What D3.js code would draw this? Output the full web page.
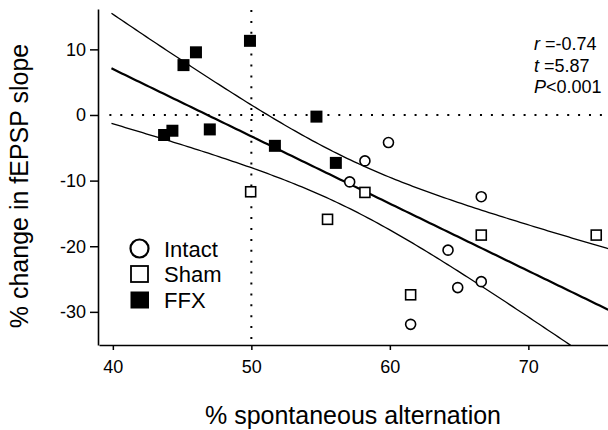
<!DOCTYPE html>
<html><head><meta charset="utf-8">
<script src="https://cdn.jsdelivr.net/npm/d3@7/dist/d3.min.js"></script>
<style>body{margin:0;background:#fff;} svg{display:block;} text{font-family:"Liberation Sans",Arial,sans-serif;fill:#000;}</style>
</head><body><svg id="c" width="608" height="430"></svg>
<script>
// ---- data ----
const intactX = [59.9, 58.2, 57.1, 66.6, 64.2, 64.9, 66.6, 61.5];
const intactY = [-4.2, -7.0, -10.2, -12.45, -20.6, -26.3, -25.4, -31.9];
const shamX = [49.95, 55.5, 58.2, 66.6, 74.9, 61.5];
const shamY = [-11.7, -15.9, -11.8, -18.3, -18.3, -27.4];
const ffxX = [45.1, 46.0, 49.9, 43.7, 44.3, 47.0, 54.7, 51.7, 56.1];
const ffxY = [7.6, 9.55, 11.3, -3.05, -2.4, -2.2, -0.25, -4.7, -7.3];
const xTicks = [40, 50, 60, 70];
const yTicks = [10, 0, -10, -20, -30];
const legendLabels = ["Intact", "Sham", "FFX"];
const statLines = [["r", " =-0.74"], ["t", " =5.87"], ["P", "<0.001"]];
const refX = 50, refY = 0;

const svg = d3.select("#c");
const x = d3.scaleLinear().domain([39.0, 75.75]).range([99, 608]);
const y = d3.scaleLinear().domain([-35.05, 16.15]).range([345, 9]);

// regression from data
const allX = intactX.concat(shamX, ffxX), allY = intactY.concat(shamY, ffxY);
const n = allX.length, mx = d3.mean(allX), my = d3.mean(allY);
let sxx = 0, sxy = 0;
for (let i = 0; i < n; i++) { sxx += (allX[i]-mx)**2; sxy += (allX[i]-mx)*(allY[i]-my); }
const b = sxy/sxx, a = my - b*mx;
let sse = 0; for (let i = 0; i < n; i++) sse += (allY[i] - a - b*allX[i])**2;
const s = Math.sqrt(sse/(n-2)), tc = 2.2;
const xs = d3.range(39.9, 76.01, 0.25);
const fit = xs.map(v => [v, a + b*v]);
const hw = v => tc*s*Math.sqrt(1/n + (v-mx)**2/sxx);
const up = xs.map(v => [v, a + b*v + hw(v)]);
const lo = xs.map(v => [v, a + b*v - hw(v)]);

svg.append("clipPath").attr("id","clip").append("rect").attr("x",99).attr("y",9).attr("width",509).attr("height",336);
const g = svg.append("g").attr("clip-path","url(#clip)");
const line = d3.line().x(d => x(d[0])).y(d => y(d[1]));

// reference dotted lines
g.append("line").attr("x1", x(refX)).attr("x2", x(refX)).attr("y1", y(16.0)).attr("y2", y(-35))
  .attr("stroke","#000").attr("stroke-width",2).attr("stroke-dasharray","2,8.9");
g.append("line").attr("x1", x(39.75)).attr("x2", 608).attr("y1", y(refY)).attr("y2", y(refY))
  .attr("stroke","#000").attr("stroke-width",2).attr("stroke-dasharray","2,8.9");

g.append("path").attr("d", line(fit)).attr("fill","none").attr("stroke","#000").attr("stroke-width",2.2);
g.append("path").attr("d", line(up)).attr("fill","none").attr("stroke","#000").attr("stroke-width",1.3);
g.append("path").attr("d", line(lo)).attr("fill","none").attr("stroke","#000").attr("stroke-width",1.3);

// axes
const fmt = d => String(d);
const xAxis = d3.axisBottom(x).tickValues(xTicks).tickFormat(fmt).tickSize(5).tickSizeOuter(0).tickPadding(10);
const yAxis = d3.axisLeft(y).tickValues(yTicks).tickFormat(fmt).tickSize(8).tickSizeOuter(0).tickPadding(4);
const gx = svg.append("g").attr("transform","translate(0,345)").call(xAxis);
const gy = svg.append("g").attr("transform","translate(98,0)").call(yAxis);
[gx, gy].forEach(ax => {
  ax.select(".domain").attr("stroke","#000").attr("stroke-width",1.6);
  ax.selectAll(".tick line").attr("stroke","#000").attr("stroke-width",1.5);
  ax.selectAll(".tick text").attr("font-size",18).attr("fill","#000");
});

// points
svg.selectAll(".ffx").data(ffxX).join("rect").attr("x",(d,i)=>x(d)-6).attr("y",(d,i)=>y(ffxY[i])-6)
  .attr("width",12).attr("height",12).attr("fill","#000");
svg.selectAll(".sham").data(shamX).join("rect").attr("x",(d,i)=>x(d)-5).attr("y",(d,i)=>y(shamY[i])-5)
  .attr("width",10).attr("height",10).attr("fill","#fff").attr("stroke","#000").attr("stroke-width",1.6);
svg.selectAll(".intact").data(intactX).join("circle").attr("cx",d=>x(d)).attr("cy",(d,i)=>y(intactY[i]))
  .attr("r",5).attr("fill","#fff").attr("stroke","#000").attr("stroke-width",1.6);

// legend
const lg = svg.append("g");
lg.append("circle").attr("cx",139.5).attr("cy",248.5).attr("r",9).attr("fill","#fff").attr("stroke","#000").attr("stroke-width",2.2);
lg.append("rect").attr("x",131).attr("y",266).attr("width",17).attr("height",16).attr("fill","#fff").attr("stroke","#000").attr("stroke-width",1.8);
lg.append("rect").attr("x",130.5).attr("y",291.5).attr("width",18.5).attr("height",17).attr("fill","#000");
legendLabels.forEach((t,i) => lg.append("text").attr("x",164).attr("y",256.5+i*25.5).attr("font-size",22).text(t));

// stats
statLines.forEach((p,i) => {
  const t = svg.append("text").attr("x",534).attr("y",50+i*21.5).attr("font-size",18);
  t.append("tspan").attr("font-style","italic").text(p[0]);
  t.append("tspan").text(p[1]);
});

// axis titles
svg.append("text").attr("x",353).attr("y",424).attr("text-anchor","middle").attr("font-size",25).text("% spontaneous alternation");
svg.append("text").attr("transform","translate(28,186) rotate(-90)").attr("text-anchor","middle").attr("font-size",25).text("% change in fEPSP slope");
</script></body></html>
